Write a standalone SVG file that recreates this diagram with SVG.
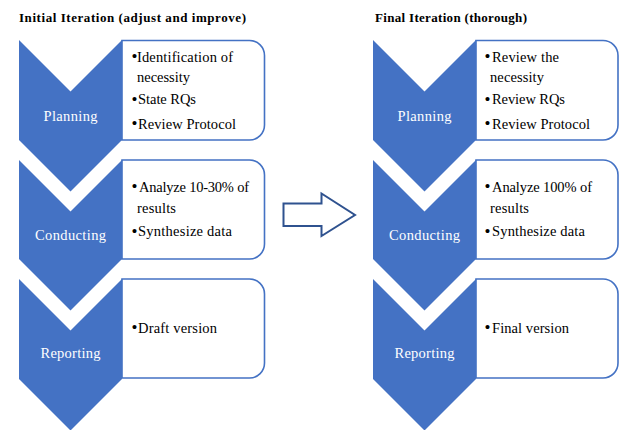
<svg xmlns="http://www.w3.org/2000/svg" width="622" height="430" viewBox="0 0 622 430">
<style>
.chev{fill:#4472C4;}
.box{fill:#ffffff;stroke:#4472C4;stroke-width:1.6;}
.lbl{font-family:"Liberation Serif",serif;font-size:14.5px;fill:#ffffff;text-anchor:middle;}
.txt{font-family:"Liberation Serif",serif;font-size:14.5px;fill:#000000;}
.bul{font-family:"Liberation Serif",serif;font-size:17px;fill:#000000;}
.title{font-family:"Liberation Serif",serif;font-size:13px;font-weight:bold;fill:#000000;}
.arrow{fill:#ffffff;stroke:#2F528F;stroke-width:2;stroke-linejoin:miter;}
</style>
<rect width="622" height="430" fill="#ffffff"/>
<g id="title-initial"><text class="title" x="19" y="21.5" textLength="227">Initial Iteration (adjust and improve)</text></g>
<g id="title-final"><text class="title" x="375" y="21.5" textLength="152">Final Iteration (thorough)</text></g>

<g id="initial-planning">
<path class="box" d="M122,40.5 H249.5 A15,15 0 0 1 264.5,55.5 V125 A15,15 0 0 1 249.5,140 H122 Z"/>
<polygon class="chev" points="19,40 70.5,91.5 122,40 122,140 70.5,191.5 19,140"/>
<text class="lbl" x="70.5" y="120.5" textLength="54">Planning</text>
<text class="bul" x="131.5" y="62">•</text><text class="txt" x="137" y="61.5" textLength="96">Identification of</text>
<text class="txt" x="137" y="82" textLength="53">necessity</text>
<text class="bul" x="131.5" y="104.5">•</text><text class="txt" x="138" y="104" textLength="58">State RQs</text>
<text class="bul" x="131.5" y="129">•</text><text class="txt" x="138" y="128.5" textLength="98">Review Protocol</text>
</g>

<g id="initial-conducting">
<path class="box" d="M122,160 H249.5 A15,15 0 0 1 264.5,175 V244 A15,15 0 0 1 249.5,259 H122 Z"/>
<polygon class="chev" points="19,160 70.5,211.5 122,160 122,259 70.5,310.5 19,259"/>
<text class="lbl" x="70.5" y="239.5" textLength="71">Conducting</text>
<text class="bul" x="131.5" y="192">•</text><text class="txt" x="139" y="191.5" textLength="110">Analyze 10-30% of</text>
<text class="txt" x="137" y="212.5" textLength="39">results</text>
<text class="bul" x="131.5" y="236.5">•</text><text class="txt" x="138" y="236" textLength="94">Synthesize data</text>
</g>

<g id="initial-reporting">
<path class="box" d="M122,279 H249.5 A15,15 0 0 1 264.5,294 V363 A15,15 0 0 1 249.5,378 H122 Z"/>
<polygon class="chev" points="19,279 70.5,330.5 122,279 122,379 70.5,430.5 19,379"/>
<text class="lbl" x="70.5" y="358" textLength="60">Reporting</text>
<text class="bul" x="131.5" y="333">•</text><text class="txt" x="138" y="332.5" textLength="79">Draft version</text>
</g>

<g id="connectors">
<polygon class="arrow" points="283.5,203.5 321.5,203.5 321.5,193.5 355,215 321.5,236 321.5,226 283.5,226"/>
</g>

<g id="final-planning">
<path class="box" d="M476,40.5 H603 A15,15 0 0 1 618,55.5 V125 A15,15 0 0 1 603,140 H476 Z"/>
<polygon class="chev" points="373,40 424.5,91.5 476,40 476,140 424.5,191.5 373,140"/>
<text class="lbl" x="424.5" y="120.5" textLength="54">Planning</text>
<text class="bul" x="484.5" y="62">•</text><text class="txt" x="492" y="61.5" textLength="67">Review the</text>
<text class="txt" x="490" y="82" textLength="54">necessity</text>
<text class="bul" x="484.5" y="104.5">•</text><text class="txt" x="492" y="104" textLength="73">Review RQs</text>
<text class="bul" x="484.5" y="129">•</text><text class="txt" x="492" y="128.5" textLength="98">Review Protocol</text>
</g>

<g id="final-conducting">
<path class="box" d="M476,160 H603 A15,15 0 0 1 618,175 V244 A15,15 0 0 1 603,259 H476 Z"/>
<polygon class="chev" points="373,160 424.5,211.5 476,160 476,259 424.5,310.5 373,259"/>
<text class="lbl" x="424.5" y="239.5" textLength="71">Conducting</text>
<text class="bul" x="484.5" y="192">•</text><text class="txt" x="492" y="191.5" textLength="100">Analyze 100% of</text>
<text class="txt" x="490" y="212.5" textLength="39">results</text>
<text class="bul" x="484.5" y="236.5">•</text><text class="txt" x="492" y="236" textLength="93">Synthesize data</text>
</g>

<g id="final-reporting">
<path class="box" d="M476,279 H603 A15,15 0 0 1 618,294 V363 A15,15 0 0 1 603,378 H476 Z"/>
<polygon class="chev" points="373,279 424.5,330.5 476,279 476,379 424.5,430.5 373,379"/>
<text class="lbl" x="424.5" y="358" textLength="60">Reporting</text>
<text class="bul" x="484.5" y="333">•</text><text class="txt" x="492" y="332.5" textLength="77">Final version</text>
</g>
</svg>
